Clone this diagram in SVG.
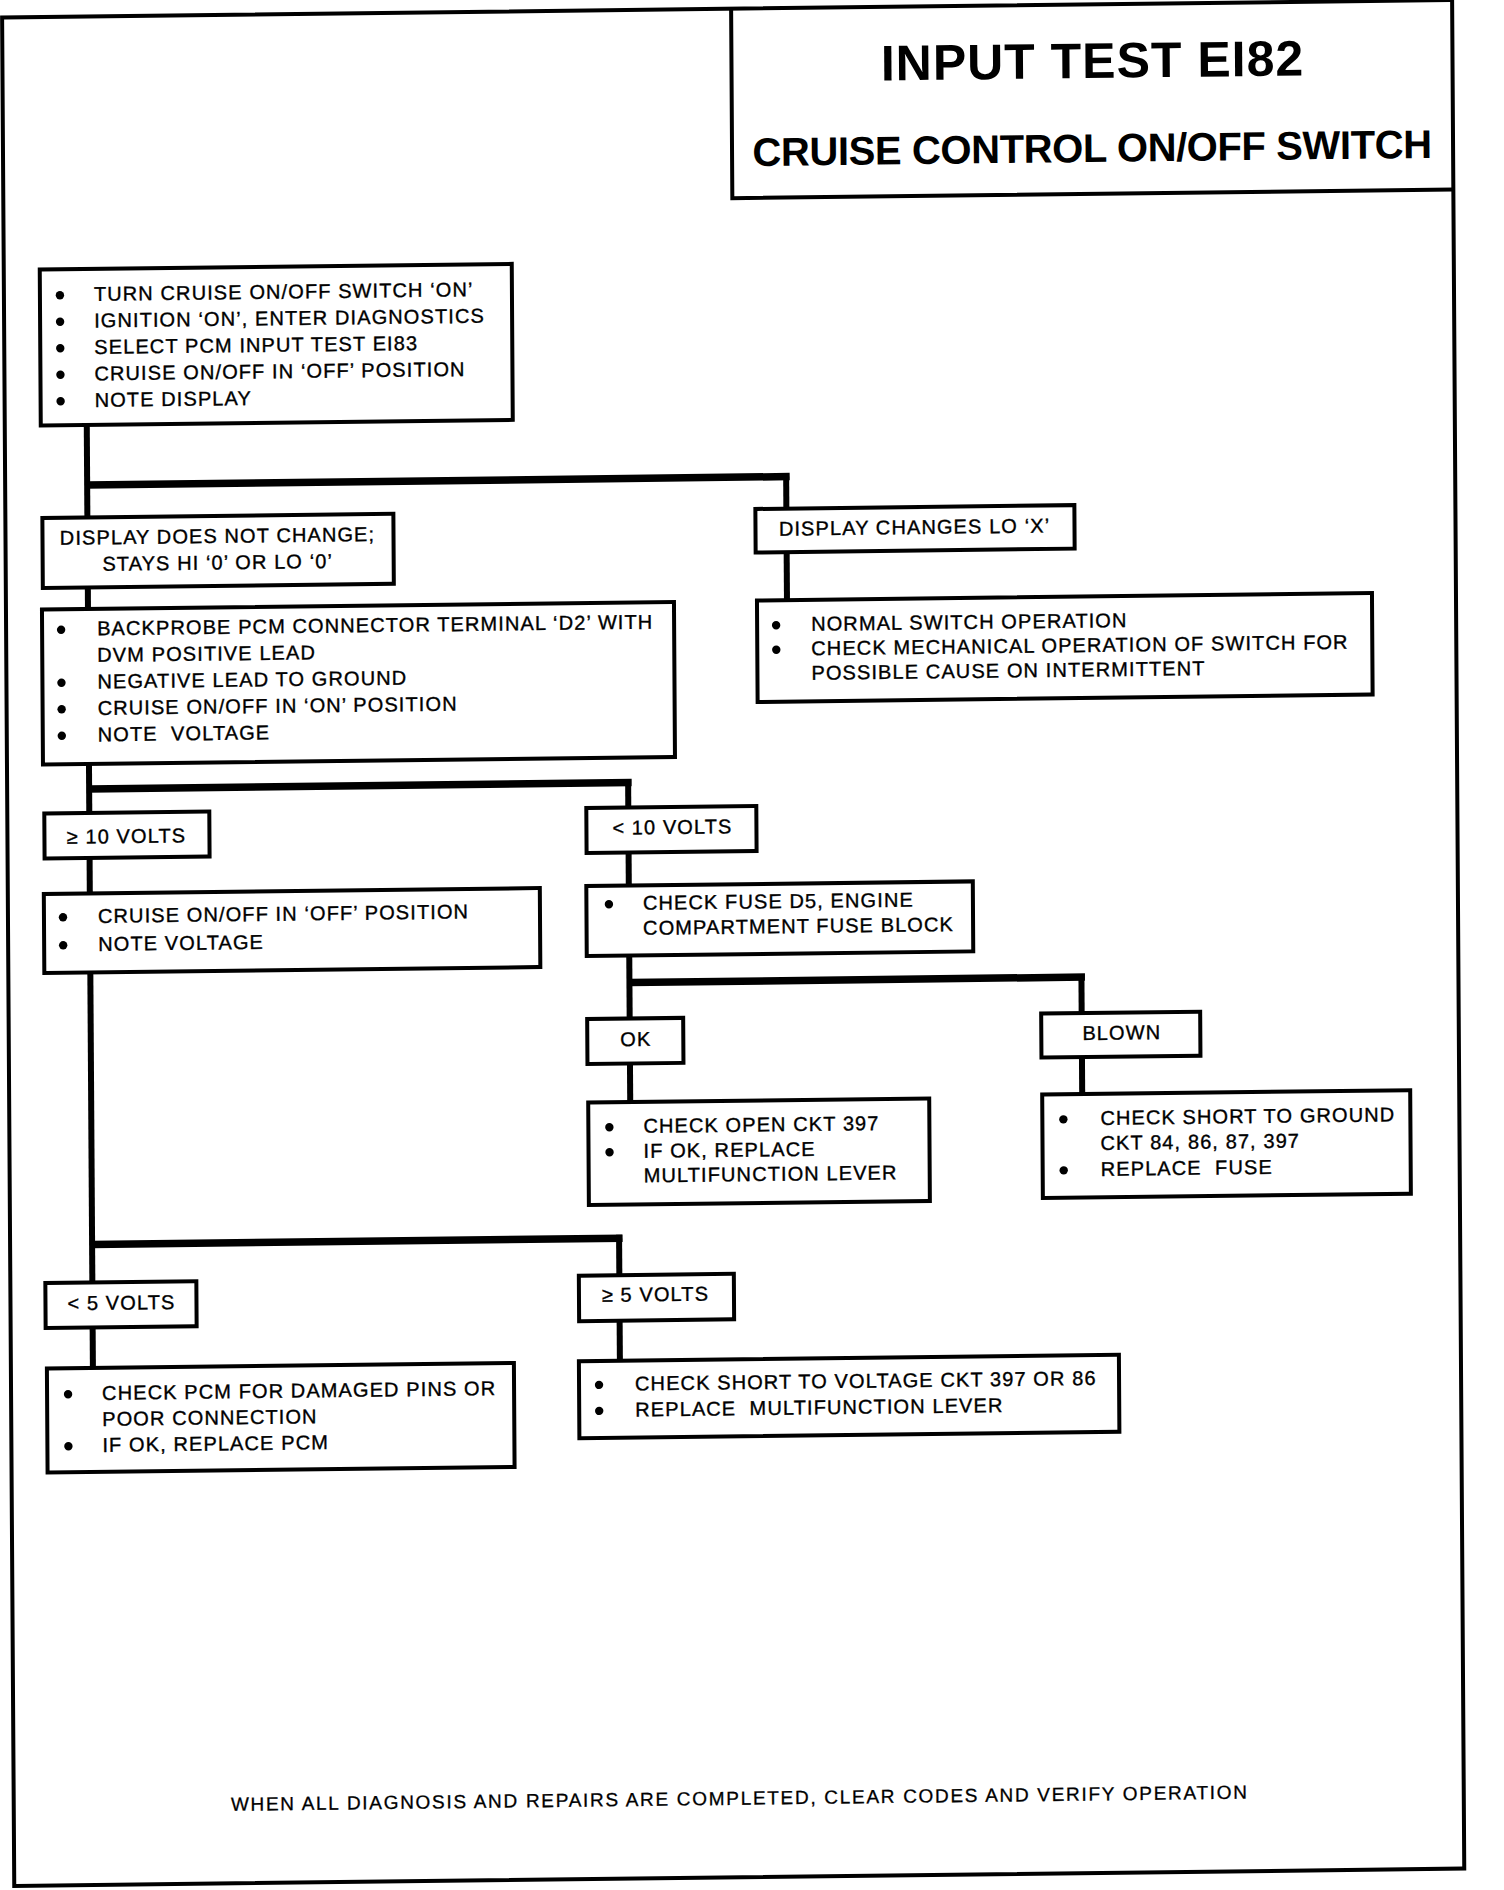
<svg xmlns="http://www.w3.org/2000/svg" xmlns:xlink="http://www.w3.org/1999/xlink" width="1504" height="1890" viewBox="0 0 1504 1890">
<style>
.t{font-family:"Liberation Sans",Arial,Helvetica,sans-serif;font-size:20px;letter-spacing:1.1px;fill:#000;stroke:#000;stroke-width:0.35}
.c{text-anchor:middle}
.h1{font-family:"Liberation Sans",Arial,Helvetica,sans-serif;font-weight:bold;font-size:50px;letter-spacing:1px;fill:#000;text-anchor:middle}
.h2{font-family:"Liberation Sans",Arial,Helvetica,sans-serif;font-weight:bold;font-size:40px;letter-spacing:-0.4px;fill:#000;text-anchor:middle}
.ft{font-family:"Liberation Sans",Arial,Helvetica,sans-serif;font-size:19px;letter-spacing:1.7px;fill:#000;stroke:#000;stroke-width:0.3;text-anchor:middle}
.box{fill:#fff;stroke:#000;stroke-width:4}
.frame{fill:none;stroke:#000;stroke-width:4}
.conn{fill:none;stroke:#000;stroke-width:6}
.bar{fill:none;stroke:#000;stroke-width:7.5}
</style>
<defs>
<circle id="b" r="4.2" fill="#000"/>
</defs>
<rect width="1504" height="1890" fill="#fff"/>
<g transform="matrix(1,-0.012,0.0065,1,0,0)">
<g id="frame">
<rect class="frame" x="2" y="17.5" width="1450" height="1868.5"/>
</g>
<g id="title">
<path class="frame" d="M731 17.5 V207 H1452"/>
<text class="h1" x="1092" y="91">INPUT TEST EI82</text>
<text class="h2" x="1091" y="175">CRUISE CONTROL ON/OFF SWITCH</text>
</g>
<g id="connectors">
<path class="conn" d="M84 426 V518.5"/>
<path class="bar" d="M84 486 H786.5"/>
<path class="conn" d="M783 483 V518"/>
<path class="conn" d="M84 588.5 V610"/>
<path class="conn" d="M783 561.5 V609.5"/>
<path class="conn" d="M84 765 V814"/>
<path class="bar" d="M84 790 H626.5"/>
<path class="conn" d="M623 787 V815"/>
<path class="conn" d="M84 859 V894.5"/>
<path class="conn" d="M623 860 V893"/>
<path class="conn" d="M84 973.5 V1283.5"/>
<path class="bar" d="M84 1245.5 H614.5"/>
<path class="conn" d="M611 1242 V1282.5"/>
<path class="conn" d="M623 963 V1026"/>
<path class="bar" d="M623 990 H1078.5"/>
<path class="conn" d="M1075 987 V1026"/>
<path class="conn" d="M623 1071 V1109.5"/>
<path class="conn" d="M1075 1070 V1107"/>
<path class="conn" d="M84 1328.5 V1369"/>
<path class="conn" d="M611 1328 V1368"/>
</g>
<g id="n1">
<rect class="box" x="38" y="270" width="472" height="156"/>
<use href="#b" x="58" y="296"/><text class="t" x="92" y="302">TURN CRUISE ON/OFF SWITCH ‘ON’</text>
<use href="#b" x="58" y="322.5"/><text class="t" x="92" y="328.5">IGNITION ‘ON’, ENTER DIAGNOSTICS</text>
<use href="#b" x="58" y="349"/><text class="t" x="92" y="355">SELECT PCM INPUT TEST EI83</text>
<use href="#b" x="58" y="375.5"/><text class="t" x="92" y="381.5">CRUISE ON/OFF IN ‘OFF’ POSITION</text>
<use href="#b" x="58" y="402"/><text class="t" x="92" y="408">NOTE DISPLAY</text>
</g>
<g id="n2">
<rect class="box" x="39" y="518.5" width="351" height="70"/>
<text class="t c" x="214" y="545.5">DISPLAY DOES NOT CHANGE;</text>
<text class="t c" x="214" y="572">STAYS HI ‘0’ OR LO ‘0’</text>
</g>
<g id="n3">
<rect class="box" x="752" y="518" width="319" height="43.5"/>
<text class="t c" x="911" y="545">DISPLAY CHANGES LO ‘X’</text>
</g>
<g id="n4">
<rect class="box" x="753" y="609.5" width="615" height="101.5"/>
<use href="#b" x="772" y="634.5"/><text class="t" x="807" y="640.5">NORMAL SWITCH OPERATION</text>
<use href="#b" x="772" y="659"/><text class="t" x="807" y="665">CHECK MECHANICAL OPERATION OF SWITCH FOR</text>
<text class="t" x="807" y="689.5">POSSIBLE CAUSE ON INTERMITTENT</text>
</g>
<g id="n5">
<rect class="box" x="38" y="610" width="632" height="155"/>
<use href="#b" x="57" y="630.5"/><text class="t" x="93" y="636.5">BACKPROBE PCM CONNECTOR TERMINAL ‘D2’ WITH</text>
<text class="t" x="93" y="663">DVM POSITIVE LEAD</text>
<use href="#b" x="57" y="683.5"/><text class="t" x="93" y="689.5">NEGATIVE LEAD TO GROUND</text>
<use href="#b" x="57" y="710"/><text class="t" x="93" y="716">CRUISE ON/OFF IN ‘ON’ POSITION</text>
<use href="#b" x="57" y="736.5"/><text class="t" x="93" y="742.5" xml:space="preserve">NOTE  VOLTAGE</text>
</g>
<g id="n6">
<rect class="box" x="39" y="814" width="165" height="45"/>
<text class="t c" x="121" y="844.5">≥ 10 VOLTS</text>
</g>
<g id="n7">
<rect class="box" x="581" y="815" width="170" height="45"/>
<text class="t c" x="667" y="842">&lt; 10 VOLTS</text>
</g>
<g id="n8">
<rect class="box" x="38" y="894.5" width="496" height="79"/>
<use href="#b" x="57" y="918"/><text class="t" x="92" y="924">CRUISE ON/OFF IN ‘OFF’ POSITION</text>
<use href="#b" x="57" y="946"/><text class="t" x="92" y="952">NOTE VOLTAGE</text>
</g>
<g id="n9">
<rect class="box" x="580.5" y="893" width="386.5" height="70"/>
<use href="#b" x="603" y="911.5"/><text class="t" x="637" y="917.5">CHECK FUSE D5, ENGINE</text>
<text class="t" x="637" y="942.5">COMPARTMENT FUSE BLOCK</text>
</g>
<g id="n10">
<rect class="box" x="580.5" y="1026" width="96" height="45"/>
<text class="t c" x="629" y="1053.5">OK</text>
</g>
<g id="n11">
<rect class="box" x="1034.5" y="1026" width="159" height="44"/>
<text class="t c" x="1115" y="1053">BLOWN</text>
</g>
<g id="n12">
<rect class="box" x="581" y="1109.5" width="341" height="102.5"/>
<use href="#b" x="602" y="1134.5"/><text class="t" x="636" y="1140.5">CHECK OPEN CKT 397</text>
<use href="#b" x="602" y="1159.5"/><text class="t" x="636" y="1165.5">IF OK, REPLACE</text>
<text class="t" x="636" y="1190">MULTIFUNCTION LEVER</text>
</g>
<g id="n13">
<rect class="box" x="1035" y="1107" width="368" height="103.5"/>
<use href="#b" x="1056" y="1132"/><text class="t" x="1093" y="1138">CHECK SHORT TO GROUND</text>
<text class="t" x="1093" y="1163">CKT 84, 86, 87, 397</text>
<use href="#b" x="1056" y="1183"/><text class="t" x="1093" y="1189" xml:space="preserve">REPLACE  FUSE</text>
</g>
<g id="n14">
<rect class="box" x="37" y="1283.5" width="151" height="45"/>
<text class="t c" x="113" y="1311">&lt; 5 VOLTS</text>
</g>
<g id="n15">
<rect class="box" x="570.5" y="1282.5" width="155" height="45.5"/>
<text class="t c" x="647" y="1309">≥ 5 VOLTS</text>
</g>
<g id="n16">
<rect class="box" x="38" y="1369" width="467" height="104"/>
<use href="#b" x="59" y="1395"/><text class="t" x="93" y="1401">CHECK PCM FOR DAMAGED PINS OR</text>
<text class="t" x="93" y="1427">POOR CONNECTION</text>
<use href="#b" x="59" y="1447"/><text class="t" x="93" y="1453">IF OK, REPLACE PCM</text>
</g>
<g id="n17">
<rect class="box" x="570" y="1368" width="540" height="77"/>
<use href="#b" x="590" y="1392"/><text class="t" x="626" y="1398">CHECK SHORT TO VOLTAGE CKT 397 OR 86</text>
<use href="#b" x="590" y="1418"/><text class="t" x="626" y="1424" xml:space="preserve">REPLACE  MULTIFUNCTION LEVER</text>
</g>
<g id="footer">
<text class="ft" x="728" y="1813.5">WHEN ALL DIAGNOSIS AND REPAIRS ARE COMPLETED, CLEAR CODES AND VERIFY OPERATION</text>
</g>
</g>
</svg>
